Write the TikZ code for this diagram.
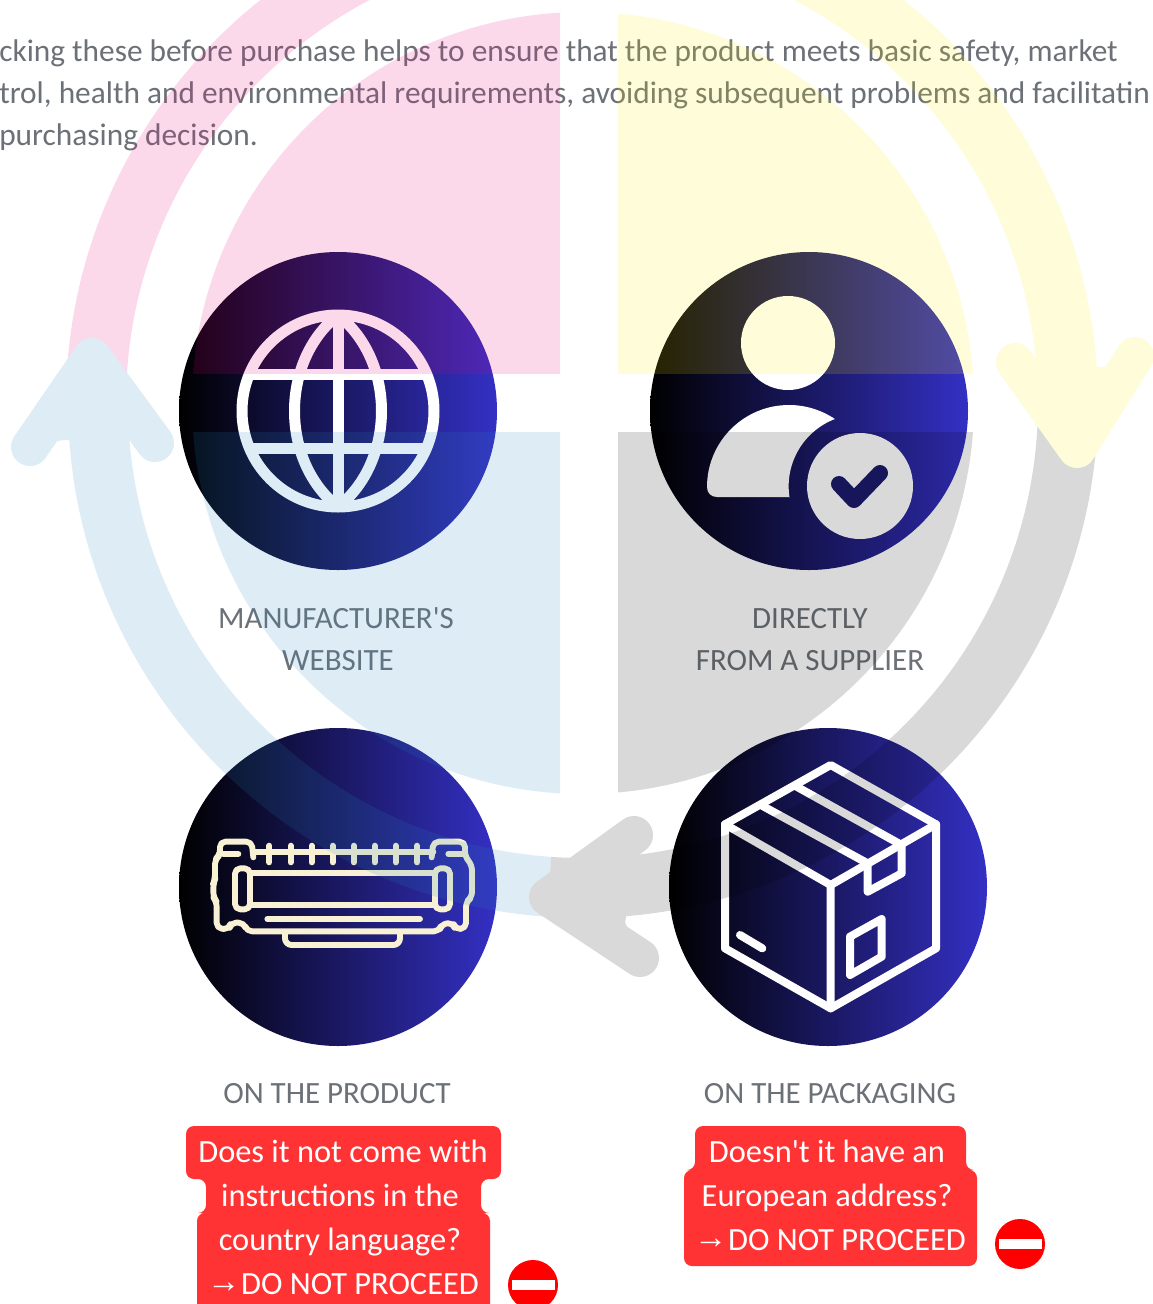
\documentclass[tikz,border=0pt]{standalone}
\usepackage{fontspec}
\newfontfamily\srcfont{Carlito}
\newfontfamily\arrowfont{Liberation Sans}
\newcommand{\introfont}{\srcfont\fontsize{23.5pt}{26pt}\selectfont}
\newcommand{\labelfont}{\srcfont\fontsize{23.2pt}{26pt}\selectfont}
\newcommand{\alertfont}{\srcfont\fontsize{24.3pt}{26pt}\selectfont}
\newcommand{\smallarrow}{\raisebox{1pt}{\arrowfont\fontsize{25pt}{25pt}\selectfont →}\kern-5pt}
\definecolor{textgray}{HTML}{6C7177}
\definecolor{gradend}{HTML}{3430C4}
\definecolor{alertred}{HTML}{FF3333}
\definecolor{cream}{HTML}{F8F1D4}
\definecolor{ovpink}{HTML}{E6007E}
\definecolor{ovyellow}{HTML}{FFED00}
\definecolor{ovblue}{HTML}{2387BC}
\tikzset{
  disc/.style={circle,inner sep=0pt,minimum size=238.5pt,left color=black,right color=gradend,draw=none},
  bodytext/.style={anchor=base west,text=textgray,inner sep=0pt,font=\introfont},
  labeltext/.style={anchor=base,text=textgray,inner sep=0pt,font=\labelfont},
  alerttext/.style={anchor=base,text=white,inner sep=0pt,font=\alertfont},
  iconline/.style={draw=white,line width=6pt,line join=round,line cap=round},
  printerline/.style={draw=cream,line width=4.4pt,line join=round,line cap=round,rounded corners=4pt},
  ringpart/.style={line width=45pt},
  headpart/.style={line width=28.5pt,line cap=round,line join=round},
}
\begin{document}
\begin{tikzpicture}[x=.75pt,y=.75pt]
\useasboundingbox (0,-1304) rectangle (1153,0);
\clip (0,-1304) rectangle (1153,0);
\fill[white] (0,-1304) rectangle (1153,0);

% intro text
\node[bodytext] (intro1) at (-1,-61) {cking these before purchase helps to ensure that the product meets basic safety, market};
\node[bodytext] (intro2) at (-1,-103) {trol, health and environmental requirements, avoiding subsequent problems and facilitatin};
\node[bodytext] (intro3) at (-1,-145) {purchasing decision.};

% discs
\node[disc] (discweb) at (338,-411) {};
\node[disc] (discsup) at (809,-411) {};
\node[disc] (discpro) at (338,-887) {};
\node[disc] (discpac) at (828,-887) {};

% globe
\begin{scope}[shift={(338,-411)}]
  \draw[draw=white,line width=8.25pt] (0,0) circle (96);
  \begin{scope}
    \clip (0,0) circle (96);
    \draw[draw=white,line width=8.25pt] (-100,37) -- (100,37) (-100,-37) -- (100,-37) (0,-100) -- (0,100);
    \draw[draw=white,line width=8.25pt] (0,96) .. controls (-58,50) and (-58,-50) .. (0,-96);
    \draw[draw=white,line width=8.25pt] (0,96) .. controls (58,50) and (58,-50) .. (0,-96);
  \end{scope}
\end{scope}

% person
\fill[white] (788,-343) circle (47);
\fill[white] (789,-497) -- (717,-497) .. controls (711,-497) and (707,-493) .. (707,-487)
  arc[start angle=180,end angle=56,radius=82]
  arc[start angle=111,end angle=189,radius=72] -- cycle;
\fill[white] (860,-486) circle (53);
\draw[draw=gradend!55!black,line width=12pt,line cap=round,line join=round] (839,-484) -- (854,-500) -- (880,-473);

% printer (coordinates in 3x crop units)
\begin{scope}[shift={(170,-800)},x=.25pt,y=-.25pt]
  \draw[printerline] (205,162) -- (160,162);
  \draw[printerline] (250,172) -- (245,125) -- (150,125) -- (150,165) -- (135,178) -- (135,238) -- (130,250) -- (130,292) -- (140,305) -- (140,385) -- (178,388) -- (182,368) -- (222,368) -- (230,394)
    -- (808,394) -- (815,372) -- (850,368) -- (855,388) -- (888,385) -- (888,305) -- (906,292) -- (906,195) -- (885,170) -- (885,125) -- (790,125) -- (785,172);
  \draw[printerline] (250,155) -- (790,155);
  \foreach \tx in {298,362,425,488,551,614,677,741} \draw[printerline] (\tx,137) -- (\tx,187);
  \draw[printerline] (835,162) -- (880,162);
  \draw[printerline] (195,205) rectangle (240,328);
  \draw[printerline] (795,205) rectangle (840,328);
  \draw[printerline] (240,218) -- (795,218) (240,315) -- (795,315);
  \draw[printerline] (292,357) -- (750,357);
  \draw[printerline,rounded corners=5pt] (345,400) -- (345,435) -- (690,435) -- (690,400);
\end{scope}

% box (coordinates in 3x crop units)
\begin{scope}[shift={(520,-730)},x=.25pt,y=-.25pt]
  \draw[iconline] (932,105) -- (1248,283) -- (1248,655) -- (932,835) -- (615,655) -- (615,283) -- cycle;
  \draw[iconline] (615,283) -- (932,465) -- (1248,283) (932,465) -- (932,835);
  \draw[iconline] (728,228) -- (1043,400) -- (1043,485) -- (1145,430) -- (1145,345) -- (830,170);
  \draw[iconline] (660,615) -- (727,655);
  \draw[iconline] (990,620) -- (1085,567) -- (1085,680) -- (990,735) -- cycle;
\end{scope}

% labels
\node[labeltext] (lab1a) at (336,-628) {MANUFACTURER'S};
\node[labeltext] (lab1b) at (338,-670) {WEBSITE};
\node[labeltext] (lab2a) at (810,-628) {DIRECTLY};
\node[labeltext] (lab2b) at (810,-670) {FROM A SUPPLIER};
\node[labeltext] (lab3) at (337,-1103) {ON THE PRODUCT};
\node[labeltext] (lab4) at (830,-1103) {ON THE PACKAGING};

% red boxes
\fill[alertred,rounded corners=6pt] (186,-1126) -- (501,-1126) -- (501,-1179) -- (481,-1179) -- (481,-1213) -- (490,-1213) -- (490,-1320) -- (197,-1320) -- (197,-1213) -- (206,-1213) -- (206,-1179) -- (186,-1179) -- cycle;
\fill[alertred,rounded corners=6pt] (695,-1126) -- (966,-1126) -- (966,-1170) -- (977,-1170) -- (977,-1266) -- (684,-1266) -- (684,-1170) -- (695,-1170) -- cycle;

\node[alerttext] (a1) at (343,-1162) {Does it not come with};
\node[alerttext] (a2) at (340,-1206) {instructions in the};
\node[alerttext] (a3) at (340,-1250) {country language?};
\node[alerttext] (a4) at (343,-1294) {\smallarrow{} DO NOT PROCEED};
\node[alerttext] (b1) at (827,-1162) {Doesn't it have an};
\node[alerttext] (b2) at (827,-1206) {European address?};
\node[alerttext] (b3) at (830,-1250) {\smallarrow{} DO NOT PROCEED};

% no-entry signs
\fill[red] (533,-1285) circle (25);
\fill[white] (512,-1290) rectangle (555,-1280);
\fill[red] (1020,-1244) circle (25);
\fill[white] (999,-1249) rectangle (1042,-1239);

% translucent cycle graphic on top of everything
\begin{scope}[transparency group,opacity=.15]
  \def\cx{583}\def\cy{-403}
  % pies
  \begin{scope}\clip (0,-373) rectangle (560,0); \fill[ovpink] (\cx,\cy) circle (391); \end{scope}
  \begin{scope}\clip (618,-373) rectangle (1153,0); \fill[ovyellow] (\cx,\cy) circle (391); \end{scope}
  \begin{scope}\clip (0,-1304) rectangle (560,-432); \fill[ovblue] (\cx,\cy) circle (391); \end{scope}
  \begin{scope}\clip (618,-1304) rectangle (1153,-432); \fill[black] (\cx,\cy) circle (391); \end{scope}
  % pink ring
  \draw[ovpink,ringpart] (581,-403) ++(90:485) arc[start angle=90,end angle=180,radius=485];
  % blue ring and head
  \draw[ovblue,ringpart] (\cx,\cy) ++(266:485) arc[start angle=266,end angle=178,radius=485];
  \draw[ovblue,headpart] (30,-447) -- (92,-357) -- (155,-443);
  \fill[ovblue] (30,-447) -- (63,-440) -- (126,-440) -- (155,-443) -- (92,-357) -- cycle;
  % gray ring and head
  \draw[black,ringpart] (\cx,\cy) ++(0:485) arc[start angle=0,end angle=-94,radius=485];
  \draw[black,headpart] (634,-835) -- (548,-897) -- (640,-958);
  \fill[black] (634,-835) -- (640,-857) -- (625,-922) -- (640,-958) -- (548,-897) -- cycle;
  % yellow ring and head
  \draw[ovyellow,ringpart] (\cx,\cy) ++(90:485) arc[start angle=90,end angle=-3,radius=485];
  \draw[ovyellow,headpart] (1015,-362) -- (1077,-449) -- (1135,-356);
  \fill[ovyellow] (1015,-362) -- (1039,-363) -- (1103,-367) -- (1135,-356) -- (1077,-449) -- cycle;
\end{scope}
\end{tikzpicture}
\end{document}
